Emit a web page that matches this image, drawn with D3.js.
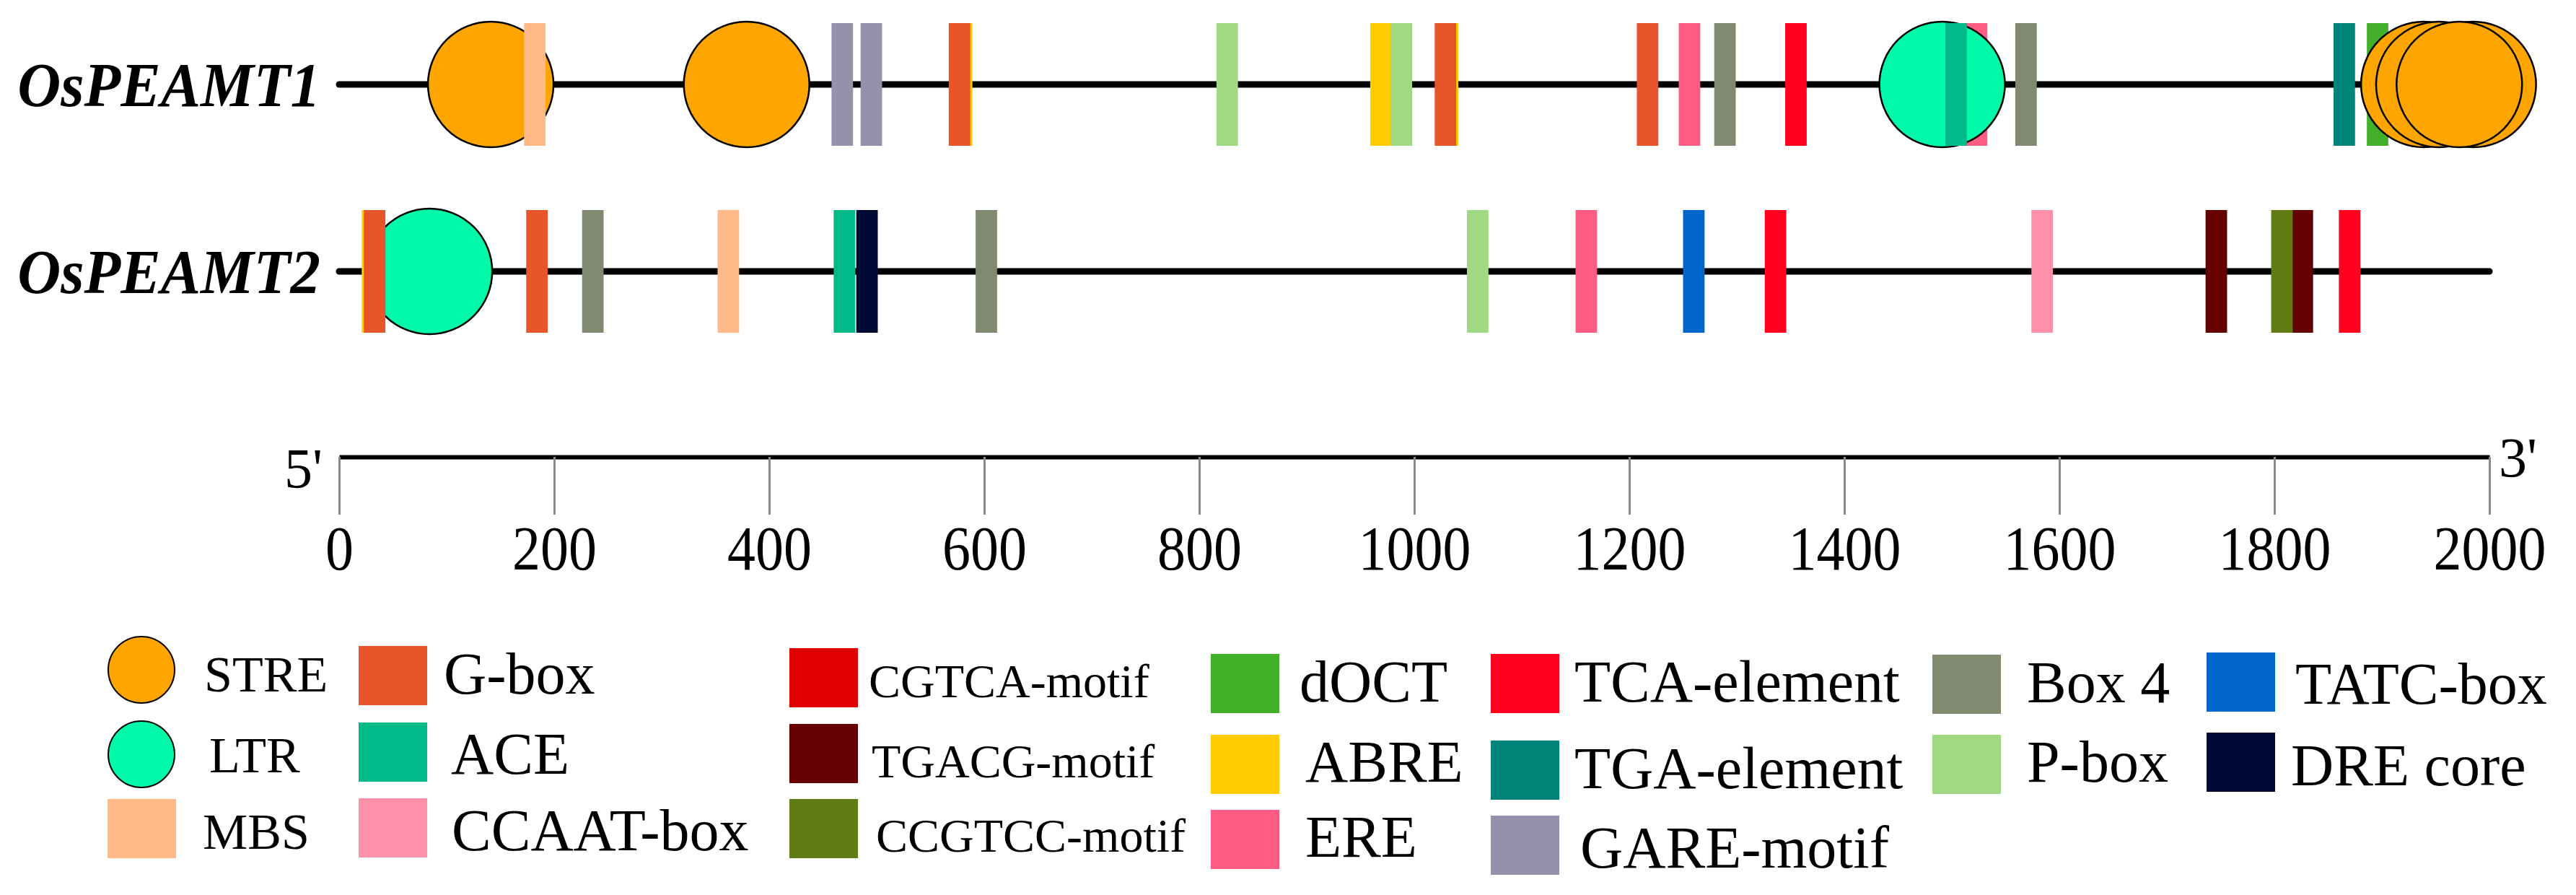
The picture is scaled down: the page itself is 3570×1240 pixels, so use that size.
<!DOCTYPE html>
<html>
<head>
<meta charset="utf-8">
<script src="https://cdn.jsdelivr.net/npm/d3@7"></script>
<style>
  html, body { margin: 0; padding: 0; background: #fff; }
  svg { display: block; }
  text { font-family: "Liberation Serif", "Times New Roman", serif; fill: #000; }
</style>
</head>
<body>
<svg id="chart" width="3570" height="1240"></svg>
<script>
// ---------------- DATA ----------------
const genes = ["OsPEAMT1", "OsPEAMT2"];

const elementNames = [
  "STRE", "LTR", "MBS",
  "G-box", "ACE", "CCAAT-box",
  "CGTCA-motif", "TGACG-motif", "CCGTCC-motif",
  "dOCT", "ABRE", "ERE",
  "TCA-element", "TGA-element", "GARE-motif",
  "Box 4", "P-box",
  "TATC-box", "DRE core"
];
const elementColors = [
  "#FFA500", "#00FAAA", "#FFBA88",
  "#E9552A", "#00BA8A", "#FF90AA",
  "#E00000", "#660000", "#5F7D13",
  "#43B02A", "#FFCC00", "#FF5C83",
  "#FF001F", "#00847A", "#9690AD",
  "#7F8A70", "#9FDA82",
  "#0066CC", "#000834"
];
const circleElements = ["STRE", "LTR"];

// OsPEAMT1 (listed in drawing order), positions in bp
const osPEAMT1Elements = [
  "STRE", "MBS", "STRE", "GARE-motif", "GARE-motif", "ABRE", "G-box",
  "P-box", "ABRE", "P-box", "ABRE", "G-box", "G-box", "ERE", "Box 4",
  "TCA-element", "ERE", "LTR", "ACE", "Box 4", "TGA-element", "dOCT",
  "STRE", "STRE", "STRE", "STRE"
];
const osPEAMT1Positions = [
  141, 182, 379, 468, 495, 579, 577,
  826, 969, 988, 1031, 1029, 1217, 1256, 1289,
  1355, 1523, 1491, 1504, 1569, 1865, 1896,
  1985, 1939, 1953, 1972
];

// OsPEAMT2 (listed in drawing order), positions in bp
const osPEAMT2Elements = [
  "LTR", "ABRE", "G-box", "G-box", "Box 4", "MBS", "DRE core", "ACE",
  "Box 4", "P-box", "ERE", "TATC-box", "TCA-element", "CCAAT-box",
  "TGACG-motif", "TGACG-motif", "CCGTCC-motif", "TCA-element"
];
const osPEAMT2Positions = [
  84, 31, 33, 184, 236, 362, 491, 470,
  602, 1059, 1160, 1260, 1336, 1584,
  1746, 1826, 1807, 1870
];

const sequenceLength = [0, 2000];
const axisTicks = [0, 200, 400, 600, 800, 1000, 1200, 1400, 1600, 1800, 2000];
const legendColumns = [
  ["STRE", "LTR", "MBS"],
  ["G-box", "ACE", "CCAAT-box"],
  ["CGTCA-motif", "TGACG-motif", "CCGTCC-motif"],
  ["dOCT", "ABRE", "ERE"],
  ["TCA-element", "TGA-element", "GARE-motif"],
  ["Box 4", "P-box"],
  ["TATC-box", "DRE core"]
];

// ---------------- LAYOUT ----------------
const svg = d3.select("#chart");
const x = d3.scaleLinear().domain(sequenceLength).range([470, 3450]);
const trackY = d3.scaleOrdinal().domain(genes).range([117, 376]);
const color = d3.scaleOrdinal().domain(elementNames).range(elementColors);
const barHalf = 10;          // bp, half width of a bar
const barHeight = 170;
const circleR = 87;

const tracks = [
  { gene: genes[0], els: osPEAMT1Elements, pos: osPEAMT1Positions },
  { gene: genes[1], els: osPEAMT2Elements, pos: osPEAMT2Positions }
];

tracks.forEach(t => {
  const g = svg.append("g");
  const cy = trackY(t.gene);
  g.append("line")
    .attr("x1", x(sequenceLength[0])).attr("x2", x(sequenceLength[1]))
    .attr("y1", cy).attr("y2", cy)
    .attr("stroke", "#000").attr("stroke-width", 9).attr("stroke-linecap", "round");

  g.append("text")
    .attr("transform", `translate(444,${cy + 30}) scale(1,1.05)`)
    .attr("text-anchor", "end")
    .style("font-size", "83px").style("font-weight", "bold").style("font-style", "italic")
    .text(t.gene);

  const items = t.els.map((e, i) => ({ name: e, pos: t.pos[i] }));
  g.selectAll("g.el").data(items).join("g").attr("class", "el").each(function (d) {
    const sel = d3.select(this);
    if (circleElements.includes(d.name)) {
      sel.append("circle")
        .attr("cx", x(d.pos)).attr("cy", cy).attr("r", circleR)
        .attr("fill", color(d.name)).attr("stroke", "#000").attr("stroke-width", 2.5);
    } else {
      sel.append("rect")
        .attr("x", x(d.pos - barHalf)).attr("width", x(d.pos + barHalf) - x(d.pos - barHalf))
        .attr("y", cy - barHeight / 2).attr("height", barHeight)
        .attr("fill", color(d.name));
    }
  });
});

// ---------------- AXIS ----------------
const axisY = 633;
const tickStretch = 1.12;
const axisG = svg.append("g").attr("transform", `translate(0,${axisY})`)
  .call(d3.axisBottom(x).tickValues(axisTicks).tickSize(80).tickSizeOuter(0).tickPadding(17)
    .tickFormat(d3.format("d")));
axisG.attr("font-family", null).attr("font-size", null);
axisG.select(".domain").attr("stroke", "#000").attr("stroke-width", 6);
axisG.selectAll(".tick line").attr("stroke", "#8a8a8a").attr("stroke-width", 3);
axisG.selectAll(".tick text")
  .attr("fill", "#000")
  .attr("dy", null)
  .attr("y", (789 - axisY) / tickStretch)
  .attr("transform", `scale(1,${tickStretch})`)
  .style("font-family", "'Liberation Serif', 'Times New Roman', serif")
  .style("font-size", "78px");

svg.append("text").attr("x", 447).attr("y", 675).attr("text-anchor", "end")
  .style("font-size", "78px").text("5'");
svg.append("text").attr("x", 3463).attr("y", 660).attr("text-anchor", "start")
  .style("font-size", "78px").text("3'");

// ---------------- LEGEND ----------------
const legendLayout = [
  { sx: 149, tx: [283, 290, 281], top: [882, 999, 1107], base: [958, 1070, 1176], fs: 70 },
  { sx: 497, tx: [615, 625, 626], top: [895, 1001, 1106], base: [961, 1072, 1178], fs: 82 },
  { sx: 1094, tx: [1204, 1208, 1214], top: [898, 1003, 1107], base: [966, 1077, 1180], fs: 66 },
  { sx: 1678, tx: [1801, 1809, 1809], top: [906, 1018, 1122], base: [972, 1083, 1187], fs: 82 },
  { sx: 2066, tx: [2182, 2182, 2190], top: [906, 1026, 1130], base: [972, 1092, 1202], fs: 82 },
  { sx: 2678, tx: [2809, 2809], top: [907, 1018], base: [973, 1083], fs: 82 },
  { sx: 3058, tx: [3181, 3175], top: [904, 1015], base: [975, 1088], fs: 82 }
];
const symW = 95, symH = 82;
const legend = svg.append("g");
legendColumns.forEach((col, ci) => {
  const L = legendLayout[ci];
  col.forEach((name, ri) => {
    if (circleElements.includes(name)) {
      legend.append("ellipse")
        .attr("cx", L.sx + 47).attr("cy", L.top[ri] + 46)
        .attr("rx", 46).attr("ry", 46)
        .attr("fill", color(name)).attr("stroke", "#000").attr("stroke-width", 2);
    } else {
      legend.append("rect")
        .attr("x", L.sx).attr("y", L.top[ri]).attr("width", symW).attr("height", symH)
        .attr("fill", color(name));
    }
    legend.append("text")
      .attr("x", L.tx[ri]).attr("y", L.base[ri])
      .style("font-size", L.fs + "px")
      .text(name);
  });
});
</script>
</body>
</html>
